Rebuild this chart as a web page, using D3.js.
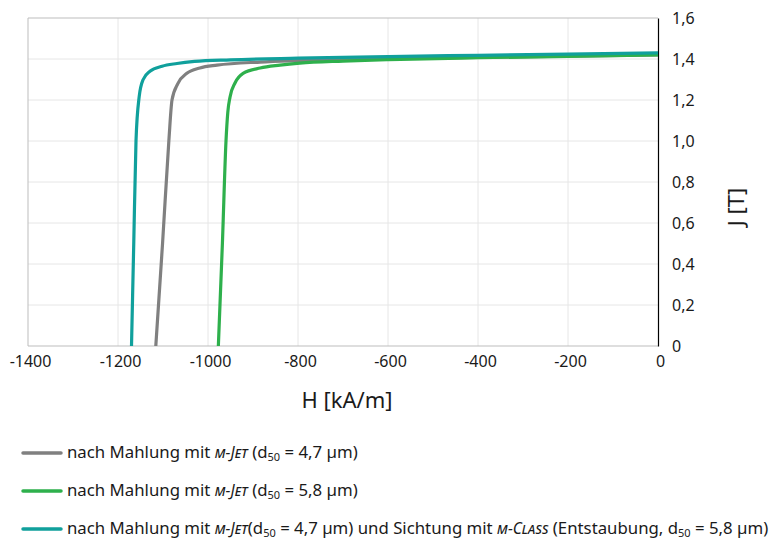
<!DOCTYPE html>
<html>
<head>
<meta charset="utf-8">
<script src="https://cdn.jsdelivr.net/npm/d3@7"></script>
<style>
  body { margin: 0; background: #fff; }
  svg { font-family: "Noto Sans", "Open Sans", sans-serif; }
  .sc { font-style: italic; font-variant: small-caps; }
</style>
</head>
<body>
<div id="chart"></div>
<script>
// Entmagnetisierungskurven, J [T] ueber H [kA/m]
var hGray = [-1116, -1101, -1087, -1080, -1067, -1047, -1018, -980, -884, -796, -600, -400, -200, 0];
var jGray = [0, 0.5, 1.0, 1.2, 1.28, 1.33, 1.356, 1.37, 1.385, 1.392, 1.402, 1.408, 1.414, 1.42];

var hGreen = [-977, -968, -960, -956, -951, -940, -922, -884, -840, -796, -700, -600, -400, -200, 0];
var jGreen = [0, 0.5, 1.0, 1.14, 1.215, 1.283, 1.33, 1.356, 1.37, 1.38, 1.39, 1.397, 1.406, 1.413, 1.42];

var hTeal = [-1170, -1165, -1160, -1153, -1144, -1129, -1102, -1069, -1030, -950, -800, -600, -400, -200, 0];
var jTeal = [0, 0.5, 1.0, 1.215, 1.30, 1.34, 1.365, 1.378, 1.388, 1.396, 1.404, 1.412, 1.418, 1.424, 1.43];

var xTicks = [-1400, -1200, -1000, -800, -600, -400, -200, 0];
var yTicks = [0, 0.2, 0.4, 0.6, 0.8, 1.0, 1.2, 1.4, 1.6];

var series = [
  {h: hGray, j: jGray, col: '#808080', d50: '4,7', sep: ' '},
  {h: hGreen, j: jGreen, col: '#2eb04c', d50: '5,8', sep: ' '},
  {h: hTeal, j: jTeal, col: '#10a09c', d50: '4,7', sep: ''}
];

var width = 778, height = 539;
var pLeft = 28, pRight = 658, pTop = 18, pBottom = 346;

var svg = d3.select('#chart').append('svg')
    .attr('width', width)
    .attr('height', height);

var x = d3.scaleLinear().domain([-1400, 0]).range([pLeft, pRight]);
var y = d3.scaleLinear().domain([0, 1.6]).range([pBottom, pTop]);

var fmt = function(d) { return d === 0 ? '0' : d.toFixed(1).replace('.', ','); };

// gridlines
svg.append('g').selectAll('line')
    .data(xTicks.slice(1, -1))
    .enter().append('line')
    .attr('x1', d => x(d)).attr('x2', d => x(d))
    .attr('y1', pTop).attr('y2', pBottom)
    .style('stroke', '#e6e6e6');
svg.append('g').selectAll('line')
    .data(yTicks.slice(1, -1))
    .enter().append('line')
    .attr('x1', pLeft).attr('x2', pRight)
    .attr('y1', d => y(d)).attr('y2', d => y(d))
    .style('stroke', '#e6e6e6');

// frame
svg.append('path')
    .attr('d', 'M' + pRight + ',' + pTop + 'H' + pLeft + 'V' + pBottom + 'H' + pRight)
    .style('fill', 'none')
    .style('stroke', '#bdbdbd');

// x axis labels
var xAxis = svg.append('g')
    .attr('transform', 'translate(2,' + pBottom + ')')
    .call(d3.axisBottom(x).tickValues(xTicks).tickSize(0).tickPadding(10).tickFormat(d => d));
xAxis.select('.domain').remove();
xAxis.selectAll('text').style('font-size', '16px').style('fill', '#1a1a1a')
    .style('font-family', '"Noto Sans", sans-serif');

// y axis on right
var yAxis = svg.append('g')
    .attr('transform', 'translate(' + pRight + ',0)')
    .call(d3.axisRight(y).tickValues(yTicks).tickSize(0).tickPadding(14).tickFormat(fmt));
yAxis.select('.domain').style('stroke', '#000').style('stroke-width', 1.2);
yAxis.selectAll('text').style('font-size', '16px').style('fill', '#1a1a1a')
    .style('font-family', '"Noto Sans", sans-serif');

// axis titles
svg.append('text')
    .attr('x', 347).attr('y', 408)
    .attr('text-anchor', 'middle')
    .style('font-size', '22px').style('fill', '#1a1a1a')
    .text('H [kA/m]');
svg.append('text')
    .attr('transform', 'translate(744,207) rotate(-90)')
    .attr('text-anchor', 'middle')
    .style('font-size', '22px').style('fill', '#1a1a1a')
    .text('J [T]');

// curves
var line = d3.line()
    .x(d => x(d[0]))
    .y(d => y(d[1]))
    .curve(d3.curveMonotoneX);

var plot = svg.append('g');
series.forEach(function(s) {
  var pts = s.h.map((h, i) => [h, s.j[i]]);
  plot.append('path')
      .datum(pts)
      .attr('d', line)
      .style('fill', 'none')
      .style('stroke', s.col)
      .style('stroke-width', 3.2)
      .style('stroke-linejoin', 'round');
});

// legend
var legY = [453, 491, 529];
series.forEach(function(s, i) {
  var g = svg.append('g').attr('transform', 'translate(0,' + legY[i] + ')');
  g.append('line')
      .attr('x1', 23).attr('x2', 61)
      .style('stroke', s.col)
      .style('stroke-width', 3.5)
      .style('stroke-linecap', 'round');
  var t = g.append('text')
      .attr('x', 67).attr('y', 5)
      .style('font-size', '16.8px').style('fill', '#1a1a1a');
  t.append('tspan').text('nach Mahlung mit ');
  t.append('tspan').attr('class', 'sc').style('font-size', '15.5px').text('m-Jet');
  t.append('tspan').text(s.sep + '(d');
  t.append('tspan').attr('dy', 3).style('font-size', '11px').text('50');
  t.append('tspan').attr('dy', -3).text(' = ' + s.d50 + ' µm)');
  if (i == 2) {
    t.append('tspan').text(' und Sichtung mit ');
    t.append('tspan').attr('class', 'sc').style('font-size', '15.5px').text('m-Class');
    t.append('tspan').text(' (Entstaubung, d');
    t.append('tspan').attr('dy', 3).style('font-size', '11px').text('50');
    t.append('tspan').attr('dy', -3).text(' = 5,8 µm)');
  }
});
</script>
</body>
</html>
